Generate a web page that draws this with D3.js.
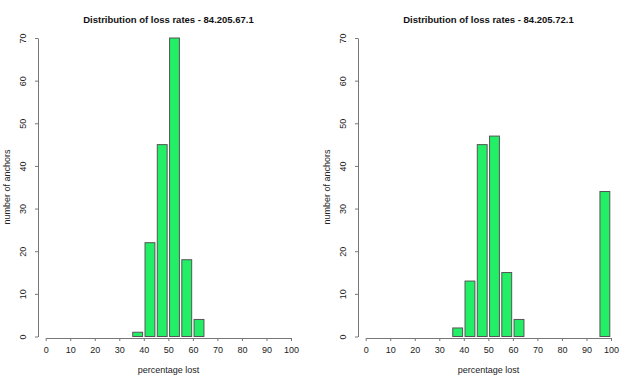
<!DOCTYPE html>
<html>
<head>
<meta charset="utf-8">
<script src="https://cdn.jsdelivr.net/npm/d3@7"></script>
<style>
    body { margin: 0; background: #fff; }
    svg { display: block; font-family: "Liberation Sans", Arial, sans-serif; }
</style>
</head>
<body>
<svg width="640" height="384"></svg>
<script>
// bin edges (percentage lost), 5% wide
var binStarts = [0, 5, 10, 15, 20, 25, 30, 35, 40, 45, 50, 55, 60, 65, 70, 75, 80, 85, 90, 95];
var countsA = [0, 0, 0, 0, 0, 0, 0, 1, 22, 45, 70, 18, 4, 0, 0, 0, 0, 0, 0, 0];
var countsB = [0, 0, 0, 0, 0, 0, 0, 2, 13, 45, 47, 15, 4, 0, 0, 0, 0, 0, 0, 34];
var titles = ['Distribution of loss rates - 84.205.67.1', 'Distribution of loss rates - 84.205.72.1'];
var xTicks = [0, 10, 20, 30, 40, 50, 60, 70, 80, 90, 100];
var yTicks = [0, 10, 20, 30, 40, 50, 60, 70];

var svg = d3.select('svg'),
    binWidth = 5,
    axisColor = '#777',
    textColor = '#222';

function drawPanel(offsetX, counts, title) {
    var g = svg.append('g').attr('transform', 'translate(' + offsetX + ',0)');

    var x = d3.scaleLinear().domain([0, 100]).range([45.7, 291]),
        y = d3.scaleLinear().domain([0, 70]).range([336.5, 38]);

    // bars
    g.selectAll('rect.bar')
        .data(counts)
        .enter()
        .append('rect')
        .attr('class', 'bar')
        .attr('x', function (d, i) { return x(binStarts[i]) + 1.2; })
        .attr('width', function (d, i) { return x(binStarts[i] + binWidth) - x(binStarts[i]) - 2.4; })
        .attr('y', function (d) { return y(d); })
        .attr('height', function (d) { return y(0) - y(d); })
        .attr('fill', '#22ee66')
        .attr('stroke', '#555')
        .attr('stroke-width', 1);

    // x axis
    var xAxis = g.append('g')
        .attr('transform', 'translate(0,338)')
        .call(d3.axisBottom(x).tickValues(xTicks).tickSize(3).tickSizeOuter(0).tickPadding(6));
    xAxis.select('.domain').attr('stroke', axisColor);
    xAxis.selectAll('.tick line').attr('stroke', axisColor);
    xAxis.selectAll('.tick text')
        .attr('fill', textColor)
        .style('font-size', '9px')
        .style('font-family', '"Liberation Sans", Arial, sans-serif');

    // y axis
    var yAxis = g.append('g')
        .attr('transform', 'translate(38,0)')
        .call(d3.axisLeft(y).tickValues(yTicks).tickSize(3).tickSizeOuter(0));
    yAxis.select('.domain').attr('stroke', axisColor);
    yAxis.selectAll('.tick line').attr('stroke', axisColor);
    yAxis.selectAll('.tick text')
        .attr('fill', textColor)
        .attr('x', 0)
        .attr('dy', 0)
        .attr('text-anchor', 'middle')
        .attr('transform', 'translate(-12,0) rotate(-90)')
        .style('font-size', '9px')
        .style('font-family', '"Liberation Sans", Arial, sans-serif');

    // title
    g.append('text')
        .attr('x', 168.5)
        .attr('y', 23)
        .attr('text-anchor', 'middle')
        .attr('font-weight', 'bold')
        .attr('font-size', '9.5px')
        .attr('fill', '#111')
        .text(title);

    // axis labels
    g.append('text')
        .attr('x', 168.5)
        .attr('y', 373)
        .attr('text-anchor', 'middle')
        .attr('font-size', '9px')
        .attr('fill', textColor)
        .text('percentage lost');

    g.append('text')
        .attr('transform', 'translate(10,187) rotate(-90)')
        .attr('text-anchor', 'middle')
        .attr('font-size', '9px')
        .attr('fill', textColor)
        .text('number of anchors');
}

drawPanel(0, countsA, titles[0]);
drawPanel(320, countsB, titles[1]);
</script>
</body>
</html>
